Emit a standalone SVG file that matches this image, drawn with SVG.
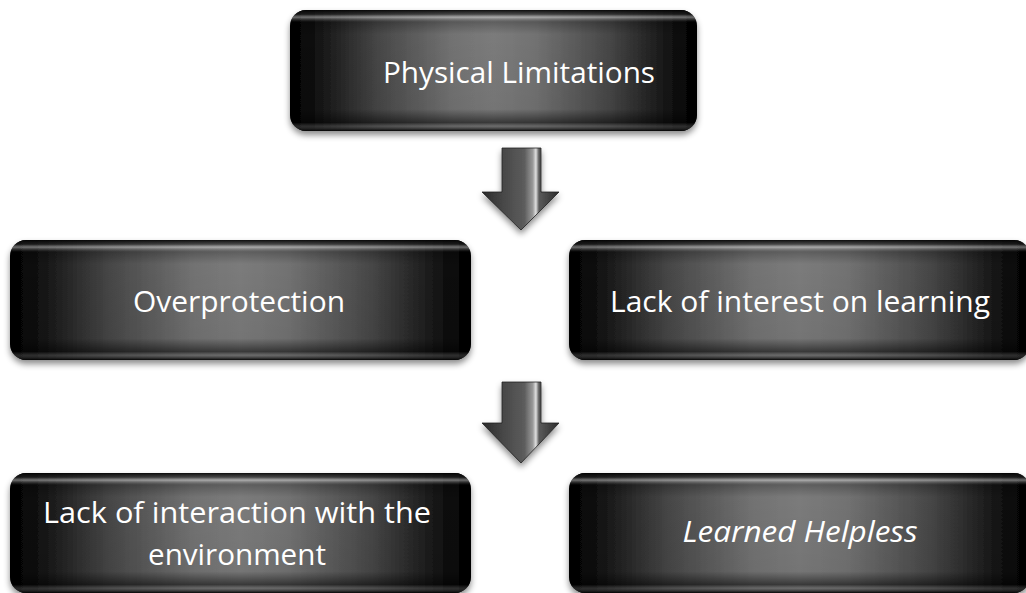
<svg xmlns="http://www.w3.org/2000/svg" width="1026" height="593" viewBox="0 0 1026 593">
<style>
.lbl{font-family:"Open Sans","Liberation Sans",sans-serif;font-size:29px;fill:#ffffff;text-anchor:middle}
.it{font-style:italic}
</style>
<defs>
<linearGradient id="gh" x1="0" y1="0" x2="1" y2="0">
<stop offset="0" stop-color="#000"/>
<stop offset="0.04" stop-color="#0a0a0a"/>
<stop offset="0.09" stop-color="#1c1c1c"/>
<stop offset="0.22" stop-color="#4a4a4a"/>
<stop offset="0.4" stop-color="#767676"/>
<stop offset="0.5" stop-color="#7f7f7f"/>
<stop offset="0.6" stop-color="#767676"/>
<stop offset="0.78" stop-color="#4a4a4a"/>
<stop offset="0.91" stop-color="#1c1c1c"/>
<stop offset="0.96" stop-color="#0a0a0a"/>
<stop offset="1" stop-color="#000"/>
</linearGradient>
<linearGradient id="gv" x1="0" y1="0" x2="0" y2="1">
<stop offset="0" stop-color="#000" stop-opacity="0.9"/>
<stop offset="0.035" stop-color="#222" stop-opacity="0.6"/>
<stop offset="0.06" stop-color="#d8d8d8" stop-opacity="0.5"/>
<stop offset="0.1" stop-color="#000" stop-opacity="0.25"/>
<stop offset="0.2" stop-color="#000" stop-opacity="0.03"/>
<stop offset="0.82" stop-color="#000" stop-opacity="0.08"/>
<stop offset="0.93" stop-color="#000" stop-opacity="0.55"/>
<stop offset="0.96" stop-color="#555" stop-opacity="0.45"/>
<stop offset="1" stop-color="#000" stop-opacity="0.95"/>
</linearGradient>
<linearGradient id="ga" x1="0" y1="0" x2="1" y2="0">
<stop offset="0" stop-color="#2a2a2a"/>
<stop offset="0.3" stop-color="#4a4a4a"/>
<stop offset="0.55" stop-color="#5c5c5c"/>
<stop offset="0.66" stop-color="#9a9a9a"/>
<stop offset="0.7" stop-color="#e0e0e0"/>
<stop offset="0.74" stop-color="#5a5a5a"/>
<stop offset="1" stop-color="#2a2a2a"/>
</linearGradient>
<filter id="sh" x="-10%" y="-20%" width="120%" height="150%">
<feDropShadow dx="0" dy="4" stdDeviation="3" flood-color="#000" flood-opacity="0.45"/>
</filter>
</defs>

<g id="connectors">
<polygon points="502,148 541,148 541,192 559,192 521,230 482,192 502,192" fill="url(#ga)" stroke="#222" stroke-width="0.8" filter="url(#sh)"/>
<polygon points="502,382 541,382 541,423 559,423 521,463 482,423 502,423" fill="url(#ga)" stroke="#222" stroke-width="0.8" filter="url(#sh)"/>
</g>

<g id="node-physical">
<rect x="290" y="10" width="407" height="121" rx="16" fill="url(#gh)" filter="url(#sh)"/>
<rect x="290" y="10" width="407" height="121" rx="16" fill="url(#gv)"/>
<text class="lbl" x="519" y="83" textLength="272" lengthAdjust="spacingAndGlyphs">Physical Limitations</text>
</g>

<g id="node-overprotection">
<rect x="10" y="240" width="461" height="120" rx="16" fill="url(#gh)" filter="url(#sh)"/>
<rect x="10" y="240" width="461" height="120" rx="16" fill="url(#gv)"/>
<text class="lbl" x="239" y="312" textLength="212" lengthAdjust="spacingAndGlyphs">Overprotection</text>
</g>

<g id="node-interest">
<rect x="569" y="240" width="461" height="120" rx="16" fill="url(#gh)" filter="url(#sh)"/>
<rect x="569" y="240" width="461" height="120" rx="16" fill="url(#gv)"/>
<text class="lbl" x="800" y="312" textLength="380" lengthAdjust="spacingAndGlyphs">Lack of interest on learning</text>
</g>

<g id="node-interaction">
<rect x="10" y="473" width="461" height="120" rx="16" fill="url(#gh)" filter="url(#sh)"/>
<rect x="10" y="473" width="461" height="120" rx="16" fill="url(#gv)"/>
<text class="lbl" x="237" y="523" textLength="388" lengthAdjust="spacingAndGlyphs">Lack of interaction with the</text>
<text class="lbl" x="237" y="565" textLength="178" lengthAdjust="spacingAndGlyphs">environment</text>
</g>

<g id="node-helpless">
<rect x="569" y="473" width="461" height="120" rx="16" fill="url(#gh)" filter="url(#sh)"/>
<rect x="569" y="473" width="461" height="120" rx="16" fill="url(#gv)"/>
<text class="lbl it" x="800" y="542" textLength="235" lengthAdjust="spacingAndGlyphs">Learned Helpless</text>
</g>
</svg>
